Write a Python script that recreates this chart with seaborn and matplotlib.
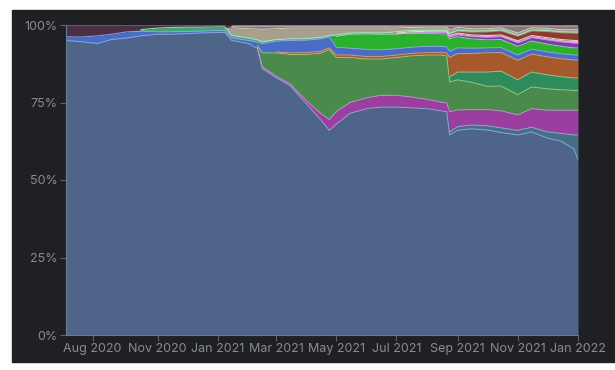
#!/usr/bin/env python
'''
100% stacked share chart, dark panel (Aug 2020 - Jan 2022)
'''
# imports
from matplotlib.patches import Rectangle
from matplotlib.ticker import PercentFormatter
import matplotlib.pyplot as plt
import numpy as np
import pandas as pd
import seaborn as sns

# settings
bg = '#1f2024'
txt = '#8a8c93'
sns.set_theme(style="dark", rc={'axes.facecolor': bg, 'axes.edgecolor': '#5f6168',
                                'xtick.color': '#5f6168', 'ytick.color': '#5f6168'})
plt.rcParams['font.family'] = ['Inter', 'DejaVu Sans']

# DATA (share of total, percent; each row normalised to 100 below)
dates = ['2020-07-31', '2020-08-15', '2020-09-01', '2020-09-15', '2020-10-01', '2020-10-15',
         '2020-11-01', '2020-11-15', '2020-12-01', '2020-12-15', '2021-01-01', '2021-01-08',
         '2021-01-15', '2021-02-01', '2021-02-10', '2021-02-15', '2021-03-01', '2021-03-15',
         '2021-04-01', '2021-04-15', '2021-04-24', '2021-05-01', '2021-05-15', '2021-06-01',
         '2021-06-15', '2021-07-01', '2021-07-15', '2021-08-01', '2021-08-15', '2021-08-21',
         '2021-08-24', '2021-09-01', '2021-09-15', '2021-10-01', '2021-10-15', '2021-11-01',
         '2021-11-15', '2021-12-01', '2021-12-15', '2021-12-28', '2022-01-01']

base = [95.0, 94.6, 94.0, 95.3, 95.8, 96.5, 97.0, 97.0, 97.2, 97.4, 97.6, 97.6, 95.0, 94.0,
        92.5, 86.0, 83.0, 80.5, 74.5, 69.5, 66.0, 68.0, 71.5, 73.0, 73.5, 73.5, 73.3, 73.0,
        72.3, 72.0, 64.5, 66.0, 66.5, 66.1, 65.3, 64.5, 65.5, 63.5, 62.5, 60.0, 56.5]
teal = [0]*30 + [1.0, 1.2, 1.2, 1.4, 1.5, 1.5, 1.5, 2.0, 2.5, 4.5, 8.0]
magenta = [0]*14 + [0.3, 0.5, 0.5, 0.5, 1.0, 2.0, 3.5, 4.0, 3.5, 3.5, 3.8, 3.8, 3.5, 3.0,
                    2.8, 2.8, 6.5, 5.4, 5.0, 5.2, 5.5, 5.0, 6.0, 7.0, 7.5, 8.0, 8.0]
green = [0]*14 + [0.5, 4.5, 7.5, 9.5, 15.0, 19.4, 22.5, 17.5, 14.5, 12.5, 11.7, 12.2, 13.2,
                  14.3, 15.2, 15.2, 9.6, 9.7, 8.8, 7.5, 8.0, 6.5, 7.0, 6.9, 6.6, 6.4, 6.4]
seagreen = [0]*30 + [1.6, 2.5, 3.3, 4.6, 4.8, 4.8, 4.8, 4.5, 4.2, 4.0, 4.0]
orange = [0]*16 + [0.3, 0.5, 0.6, 0.6, 0.6, 0.8, 0.8, 0.8, 0.8, 0.8, 0.8, 0.8, 0.8, 0.9,
                   6.3, 6.0, 6.0, 6.2, 6.0, 6.3, 5.8, 5.8, 5.8, 5.8, 5.8]
blue = [1.2, 1.5, 2.5, 1.7, 2.0, 1.5, 0.8, 0.8, 0.7, 0.6, 0.6, 0.6, 0.8, 1.0, 1.2, 3.0, 3.5,
        4.0, 4.0, 4.0, 3.5, 2.5, 2.2, 2.3, 2.2, 2.0, 2.0, 2.0, 2.0, 2.0, 2.0, 1.8, 1.7, 1.6,
        1.6, 1.7, 1.6, 1.6, 1.6, 1.6, 1.6]
lime = [0]*21 + [3.5, 4.5, 5.0, 5.0, 4.8, 4.5, 4.2, 4.0, 4.2, 4.0, 3.6, 3.0, 2.6, 2.6, 2.8,
                 2.6, 2.5, 2.4, 2.3, 2.3]
violet = [0]*26 + [0.1, 0.3, 0.5, 0.5, 0.6, 0.7, 0.8, 0.9, 1.0, 1.2, 1.2, 1.4, 1.5, 1.6, 1.6]
pink = [0]*25 + [0.3, 0.4, 0.4, 0.4, 0.4, 0.5, 0.5, 0.5, 0.5, 0.5, 0.6, 0.6, 0.7, 0.7, 0.8, 0.8]
brown = [0]*30 + [0.4, 0.6, 0.9, 1.2, 1.3, 1.5, 1.5, 2.0, 2.2, 2.4, 2.4]
mint = [0]*5 + [0.5, 1.2, 1.4, 1.4, 1.3, 1.2, 1.2, 0.8, 0.8, 0.7, 0.6, 0.5, 0.5, 0.5, 0.5,
                0.5, 0.5, 0.4, 0.4, 0.4, 0.4, 0.4] + [0.3]*14
tan = [0]*12 + [2.5, 3.0, 3.5, 4.0, 3.5, 3.5, 3.4, 3.0, 2.4, 2.2, 1.6, 1.5, 1.6, 1.2, 1.0,
                1.0, 1.0, 1.0, 1.0, 0.9, 0.8, 0.7, 0.7, 0.7, 0.7, 0.7, 0.7, 0.8, 0.8]
gray = [0]*12 + [0.4, 0.7, 0.8, 0.9, 0.7, 0.5, 0.5, 0.5, 0.5, 0.5, 0.5, 0.5, 0.5, 0.5, 0.4,
                 0.3, 0.3, 0.3, 1.3, 0.4, 0.8, 0.8, 0.5, 2.2, 0.5, 0.7, 1.1, 1.1, 1.1]
red = [0]*12 + [0.5]*14 + [0.4]*15
maroon = [3.8, 3.9, 3.5, 3.0, 2.2, 1.5, 1.0, 0.8, 0.7, 0.7, 0.6, 0.6] + [0]*29

series = ['base', 'teal', 'magenta', 'green', 'seagreen', 'orange', 'blue', 'lime', 'violet',
          'pink', 'brown', 'mint', 'tan', 'gray', 'red', 'maroon']
fills = ['#4f6489', '#466f86', '#9a3ea0', '#4a8a4c', '#2f8b5c', '#a65a2b', '#4a6bc6', '#2cb12c',
         '#7a3db2', '#e8b4cc', '#8c3b2f', '#3ea875', '#a8a08e', '#7d7d80', '#9a3838', '#4b3043']
edges = ['#8fb0e0', '#8ab8d0', '#d58be0', '#9ed27a', '#7fd69f', '#e0a070', '#8fa8ff', '#8fe88f',
         '#c090f0', '#ffe0f0', '#d08070', '#a8f0c8', '#e0d8c8', '#b8b8b8', '#d07070', '#7a5a70']

tick_dates = ['2020-08-27', '2020-11-01', '2021-01-01', '2021-03-01', '2021-05-01',
              '2021-07-01', '2021-09-01', '2021-11-01', '2022-01-01']
tick_labels = ['Aug 2020', 'Nov 2020', 'Jan 2021', 'Mar 2021', 'May 2021', 'Jul 2021',
               'Sep 2021', 'Nov 2021', 'Jan 2022']

df = pd.DataFrame({'base': base, 'teal': teal, 'magenta': magenta, 'green': green,
                   'seagreen': seagreen, 'orange': orange, 'blue': blue, 'lime': lime,
                   'violet': violet, 'pink': pink, 'brown': brown, 'mint': mint, 'tan': tan,
                   'gray': gray, 'red': red, 'maroon': maroon}, index=pd.to_datetime(dates))
df = df.div(df.sum(axis=1), axis=0) * 100

# plot
fig = plt.figure(figsize=(6.15, 3.7), dpi=100)
fig.patch.set_facecolor('white')
fig.add_artist(Rectangle((12/615, 8/370), 603/615, 352/370, transform=fig.transFigure,
                         color=bg, zorder=0))
ax = fig.add_axes([66/615, 35/370, 512/615, 310/370])

ax.stackplot(df.index, *[df[s] for s in series], colors=fills, linewidth=0)
tops = df[series].cumsum(axis=1)
for s, c in zip(series, edges):
    line = tops[s].where(df[s] > 0.05)
    sns.lineplot(x=df.index, y=line.values, ax=ax, color=c, linewidth=0.8, alpha=0.85)

ax.set_xlim(pd.Timestamp(dates[0]), pd.Timestamp(dates[-1]))
ax.set_ylim(0, 100)
ax.set_yticks([0, 25, 50, 75, 100])
ax.yaxis.set_major_formatter(PercentFormatter(decimals=0))
ax.set_xticks(pd.to_datetime(tick_dates))
ax.set_xticklabels(tick_labels)
ax.tick_params(axis='both', length=4, width=0.8, pad=2, labelsize=9, labelcolor=txt,
               left=True, bottom=True)
for side in ['top', 'right']:
    ax.spines[side].set_visible(False)
for side in ['left', 'bottom']:
    ax.spines[side].set_visible(True)
    ax.spines[side].set_color('#6a7a95')
    ax.spines[side].set_linewidth(0.8)
ax.grid(False)
ax.set_xlabel('')
ax.set_ylabel('')

fig.savefig('out.png', dpi=100, facecolor='white')
plt.close()
